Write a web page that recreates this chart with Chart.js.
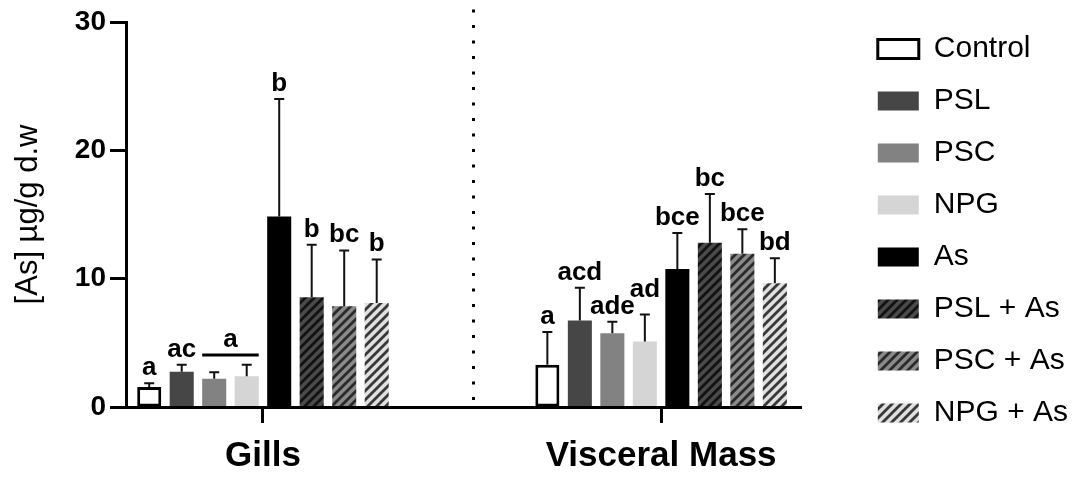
<!DOCTYPE html>
<html>
<head>
<meta charset="utf-8">
<script src="https://cdn.jsdelivr.net/npm/chart.js@4.4.1/dist/chart.umd.min.js"></script>
<style>
  html, body { margin: 0; padding: 0; background: #fff; }
  canvas { display: block; }
</style>
</head>
<body>
<canvas id="as-chart" width="1083" height="477"></canvas>
<script>
const groups = ['Gills', 'Visceral Mass'];
const treatments = ['Control', 'PSL', 'PSC', 'NPG', 'As', 'PSL + As', 'PSC + As', 'NPG + As'];

const gillsMean = [1.55, 2.75, 2.2, 2.4, 14.85, 8.55, 7.85, 8.1];
const gillsSd = [0.3, 0.55, 0.5, 0.9, 9.15, 4.1, 4.35, 3.4];
const visceralMean = [3.3, 6.75, 5.75, 5.1, 10.75, 12.8, 11.95, 9.65];
const visceralSd = [2.55, 2.55, 0.9, 2.1, 2.8, 3.8, 1.9, 1.95];

const gillsLetters = ['a', 'ac', '', '', 'b', 'b', 'bc', 'b'];
const visceralLetters = ['a', 'acd', 'ade', 'ad', 'bce', 'bc', 'bce', 'bd'];
const yTicks = [0, 10, 20, 30];

// "a" shared by PSC and NPG in gills, drawn over a line
const gillsBracket = { from: 2, to: 3, level: 4.05, text: 'a' };

const means = [gillsMean, visceralMean];
const sds = [gillsSd, visceralSd];
const letters = [gillsLetters, visceralLetters];

const FONT = "'Liberation Sans', Arial, sans-serif";
const dividerAt = 0.528;   // x-scale units
const axisEnd = 1.354;     // x-scale units, where the x axis line stops
const letterLift = { '1-3': 10 };

function hatch(bg, fg) {
    const s = 9;
    const c = document.createElement('canvas');
    c.width = s;
    c.height = s;
    const g = c.getContext('2d');
    g.fillStyle = bg;
    g.fillRect(0, 0, s, s);
    g.strokeStyle = fg;
    g.lineWidth = 2.8;
    g.beginPath();
    g.moveTo(-1, s + 1); g.lineTo(s + 1, -1);
    g.moveTo(-s / 2 - 1, s / 2 + 1); g.lineTo(s / 2 + 1, -s / 2 - 1);
    g.moveTo(s / 2 - 1, s * 1.5 + 1); g.lineTo(s * 1.5 + 1, s / 2 - 1);
    g.stroke();
    return g.createPattern(c, 'repeat');
}

const fills = [
    '#ffffff', '#464646', '#828282', '#d5d5d5', '#000000',
    hatch('#4a4a4a', '#121212'),
    hatch('#8a8a8a', '#2a2a2a'),
    hatch('#e0e0e0', '#383838')
];

const datasets = treatments.map((name, k) => ({
    label: name,
    data: groups.map((g, j) => ({ x: j, y: means[j][k] })),
    backgroundColor: fills[k],
    borderColor: '#000',
    borderWidth: k === 0 ? 3 : 0,
    borderSkipped: false,
    xAxisID: 'x',
    yAxisID: 'y'
}));

const annotate = {
    id: 'annotate',
    afterDatasetsDraw(chart) {
        const ctx = chart.ctx;
        const xs = chart.scales.x;
        const ys = chart.scales.y;
        const area = chart.chartArea;
        ctx.save();

        // x axis line, stopping short of the legend
        ctx.strokeStyle = '#000';
        ctx.lineWidth = 3;
        ctx.beginPath();
        ctx.moveTo(area.left - 1.5, area.bottom + 0.5);
        ctx.lineTo(xs.getPixelForValue(axisEnd), area.bottom + 0.5);
        ctx.stroke();

        // dotted divider between the two tissues
        const dx = Math.round(xs.getPixelForValue(dividerAt)) + 0.5;
        ctx.setLineDash([3, 12.5]);
        ctx.beginPath();
        ctx.moveTo(dx, 9.5);
        ctx.lineTo(dx, area.bottom - 6);
        ctx.stroke();
        ctx.setLineDash([]);

        ctx.font = 'bold 26px ' + FONT;
        ctx.textAlign = 'center';
        ctx.textBaseline = 'alphabetic';
        ctx.fillStyle = '#000';

        chart.data.datasets.forEach((ds, i) => {
            const meta = chart.getDatasetMeta(i);
            meta.data.forEach((bar, j) => {
                const top = ys.getPixelForValue(means[j][i]);
                const errTop = ys.getPixelForValue(means[j][i] + sds[j][i]);
                ctx.strokeStyle = '#111';
                ctx.lineWidth = 2;
                ctx.beginPath();
                ctx.moveTo(bar.x, top);
                ctx.lineTo(bar.x, errTop);
                ctx.moveTo(bar.x - 5, errTop);
                ctx.lineTo(bar.x + 5, errTop);
                ctx.stroke();
                const txt = letters[j][i];
                if (txt) {
                    const lift = letterLift[j + '-' + i] || 0;
                    ctx.fillText(txt, bar.x, errTop - 8 - lift);
                }
            });
        });

        // bracket line for the shared letter
        const a = chart.getDatasetMeta(gillsBracket.from).data[0];
        const b = chart.getDatasetMeta(gillsBracket.to).data[0];
        const ly = ys.getPixelForValue(gillsBracket.level);
        ctx.lineWidth = 3;
        ctx.strokeStyle = '#000';
        ctx.beginPath();
        ctx.moveTo(a.x - a.width / 2, ly);
        ctx.lineTo(b.x + b.width / 2, ly);
        ctx.stroke();
        ctx.fillText(gillsBracket.text, (a.x + b.x) / 2, ly - 8);

        ctx.restore();
    }
};

const chart = new Chart(document.getElementById('as-chart'), {
    type: 'bar',
    data: { datasets },
    plugins: [annotate],
    options: {
        responsive: false,
        animation: false,
        devicePixelRatio: 1,
        layout: { padding: { top: 12, right: 5, bottom: 0, left: 0 } },
        datasets: {
            bar: { categoryPercentage: 0.653, barPercentage: 0.74 }
        },
        plugins: {
            tooltip: { enabled: false },
            legend: {
                position: 'right',
                align: 'start',
                labels: {
                    boxWidth: 41,
                    boxHeight: 19,
                    padding: 22,
                    color: '#000',
                    font: { family: FONT, size: 30 }
                }
            }
        },
        scales: {
            x: {
                type: 'linear',
                position: 'bottom',
                min: -0.344,
                max: 1.489,
                offset: false,
                afterBuildTicks: (scale) => { scale.ticks = groups.map((g, i) => ({ value: i })); },
                afterFit: (scale) => { scale.height = 70; },
                ticks: {
                    callback: (v) => groups[v],
                    color: '#000',
                    padding: 12,
                    maxRotation: 0,
                    font: { family: FONT, size: 35, weight: 'bold' }
                },
                grid: {
                    offset: false,
                    drawOnChartArea: false,
                    tickLength: 16,
                    tickWidth: 3,
                    tickColor: '#000',
                    color: '#000'
                },
                border: { display: false }
            },
            xT: {
                position: 'top',
                display: true,
                ticks: { display: false },
                grid: { display: false },
                border: { display: false },
                afterFit: (scale) => { scale.height = 10; }
            },
            y: {
                position: 'left',
                min: 0,
                max: 30,
                afterBuildTicks: (scale) => { scale.ticks = yTicks.map(v => ({ value: v })); },
                afterFit: (scale) => { scale.width = 126; },
                ticks: {
                    color: '#000',
                    padding: 4,
                    font: { family: FONT, size: 28, weight: 'bold' }
                },
                grid: {
                    drawOnChartArea: false,
                    tickLength: 16,
                    tickWidth: 3,
                    tickColor: '#000',
                    color: '#000'
                },
                border: { color: '#000', width: 3 },
                title: {
                    display: true,
                    text: '[As] µg/g d.w',
                    color: '#000',
                    padding: { top: 10, bottom: 4 },
                    font: { family: FONT, size: 31 }
                }
            }
        }
    }
});
</script>
</body>
</html>
